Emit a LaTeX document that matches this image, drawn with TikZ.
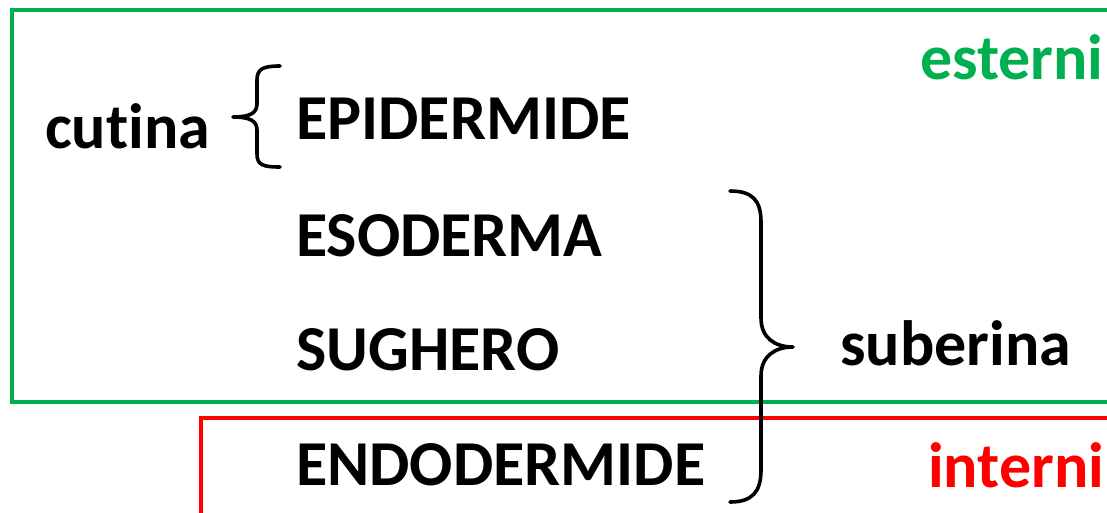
\documentclass[tikz,border=0pt]{standalone}
\usepackage{fontspec}
\setmainfont{Carlito}[Ligatures={NoCommon}]
\definecolor{offgreen}{RGB}{0,176,80}
\definecolor{offred}{RGB}{255,0,0}
\begin{document}
\begin{tikzpicture}[x=1pt,y=-1pt,
  lbl/.style={anchor=base west,inner sep=0pt,font=\fontsize{64}{72}\selectfont\bfseries},
  bracepath/.style={draw=black,line width=3.6pt,line cap=round,line join=round},
  boxline/.style={line width=3.6pt}]
\useasboundingbox (0,0) rectangle (1107,512);
% boxes
\draw[boxline,offgreen] (1110,10) -- (12,10) -- (12,402) -- (1110,402);
\draw[boxline,offred] (1110,418) -- (201,418) -- (201,515);
% texts
\node[lbl] (cutina) at (45,148) {cutina};
\node[lbl] (epi) at (296,139) {EPIDERMIDE};
\node[lbl] (eso) at (296,256) {ESODERMA};
\node[lbl] (sug) at (296,370) {SUGHERO};
\node[lbl] (endo) at (296,485) {ENDODERMIDE};
\node[lbl] (sub) at (840,365) {suberina};
\node[lbl,text=offgreen] (est) at (920,79) {esterni};
\node[lbl,text=offred] (int) at (928,487) {interni};
% braces
\draw[bracepath] (280,66) .. controls (263,66) and (257,69) .. (257,80) -- (257,104)
  .. controls (257,113) and (250,117) .. (233,117)
  .. controls (250,117) and (257,121) .. (257,130) -- (257,154)
  .. controls (257,165) and (263,167) .. (280,167);
\draw[bracepath] (730,191) .. controls (752,191) and (761,200) .. (761,222) -- (761,318)
  .. controls (761,338) and (775,347) .. (793,347)
  .. controls (775,347) and (761,356) .. (761,376) -- (761,470)
  .. controls (761,492) and (752,502) .. (730,502);
\end{tikzpicture}
\end{document}
